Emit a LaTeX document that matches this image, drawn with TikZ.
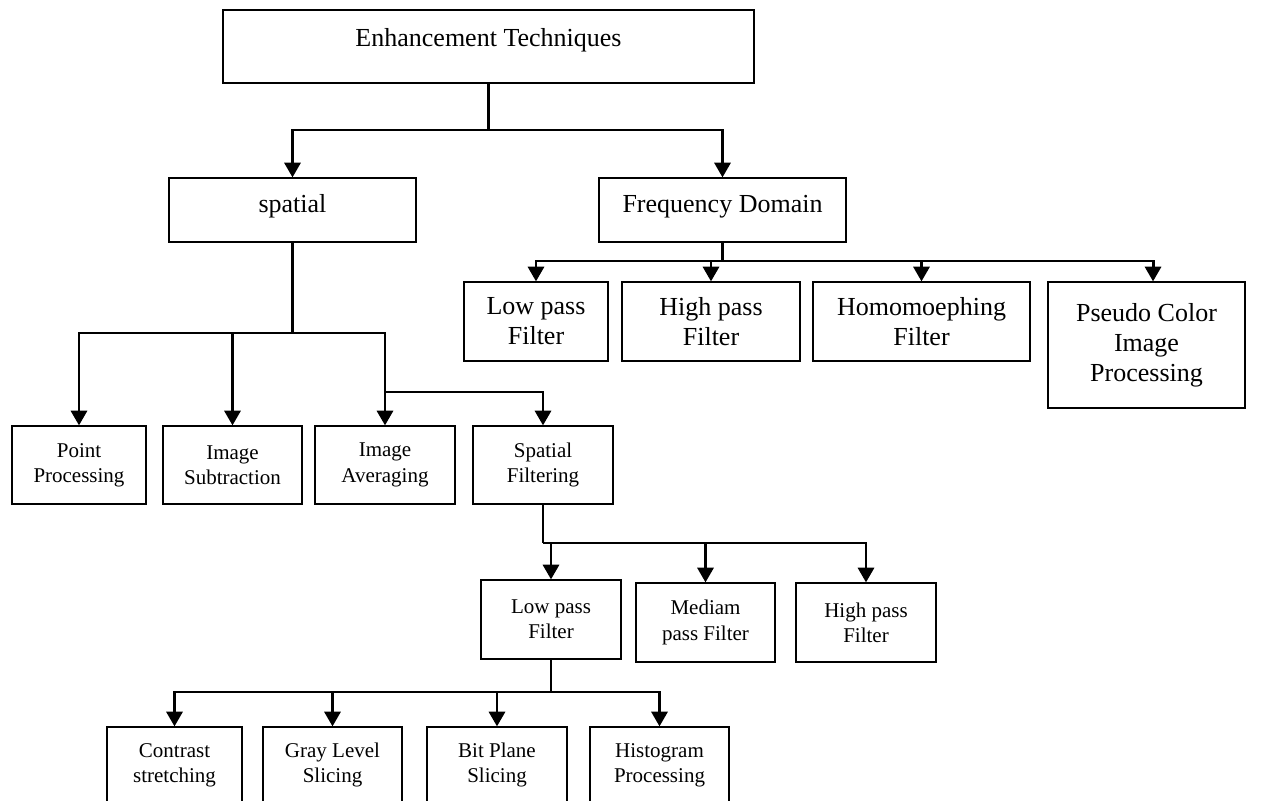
\documentclass[tikz,border=0pt]{standalone}
\usepackage{fontspec}
\setmainfont{Liberation Serif}
\usetikzlibrary{arrows.meta}
\tikzset{
  box/.style={draw, line width=0.9pt, rectangle, inner sep=0pt, align=center},
  big/.style={font=\fontsize{19.5pt}{22.5pt}\selectfont},
  small/.style={font=\fontsize{15.75pt}{19pt}\selectfont},
  oneline/.style={text height=13.5pt, text depth=9.75pt},
  conn/.style={line width=2.2pt},
  arr/.style={conn, -{Triangle[width=12pt,length=11pt]}},
}
\newcommand\mybox[7][]{%
  \node[box,#1, minimum width={(#4-#2)*0.75pt}, minimum height={(#5-#3)*0.75pt}]
    (#6) at ({(#2+#4)/2},{(#3+#5)/2}) {#7};}
\begin{document}
\begin{tikzpicture}[x=0.75pt,y=-0.75pt]
\useasboundingbox (0,0) rectangle (1263,800);
\clip (0,0) rectangle (1263,800);
% level 0
\mybox[big,text height=9pt,text depth=9pt]{223}{10}{754}{83}{enh}{Enhancement Techniques}
% level 1
\mybox[big,oneline]{169}{178}{416}{242}{sp}{spatial}
\mybox[big,oneline]{599}{178}{846}{242}{fd}{Frequency Domain}
% frequency children
\mybox[big]{464}{282}{608}{361}{flp}{Low pass\\Filter}
\mybox[big]{622}{282}{800}{361}{fhp}{High pass\\Filter}
\mybox[big]{813}{282}{1030}{361}{fho}{Homomoephing\\Filter}
\mybox[big]{1048}{282}{1245}{408}{fps}{Pseudo Color\\Image\\Processing}
% spatial children
\mybox[small]{12}{426}{146}{504}{pp}{Point\\Processing}
\mybox[small]{163}{426}{302}{504}{isub}{Image\\Subtraction}
\mybox[small]{315}{426}{455}{504}{iav}{Image\\Averaging}
\mybox[small]{473}{426}{613}{504}{sf}{Spatial\\Filtering}
% spatial filtering children
\mybox[small]{481}{580}{621}{659}{slp}{Low pass\\Filter}
\mybox[small]{636}{583}{775}{662}{smp}{Mediam\\pass Filter}
\mybox[small]{796}{583}{936}{662}{shp}{High pass\\Filter}
% low pass children
\mybox[small]{107}{727}{242}{803}{cs}{Contrast\\stretching}
\mybox[small]{263}{727}{402}{803}{gl}{Gray Level\\Slicing}
\mybox[small]{427}{727}{567}{803}{bp}{Bit Plane\\Slicing}
\mybox[small]{590}{727}{729}{803}{hg}{Histogram\\Processing}
% connectors
\coordinate (j1) at (488.5,130);
\draw[conn] (enh.south) -- (j1);
\draw[arr] (j1) -| (sp);
\draw[arr] (j1) -| (fd);
\coordinate (j2) at (722.5,261);
\draw[conn] (fd.south) -- (j2);
\draw[arr] (j2) -| (flp);
\draw[arr] (j2) -| (fhp);
\draw[arr] (j2) -| (fho);
\draw[arr] (j2) -| ([xshift=4.9pt]fps.north);
\coordinate (j3) at (292.5,333);
\draw[conn] (sp.south) -- (j3);
\draw[arr] (j3) -| (pp);
\draw[arr] (j3) -| (isub);
\draw[arr] (j3) -| (iav);
\coordinate (j4) at (385,392);
\draw[arr] (j4) -| (sf);
\coordinate (j5) at (543,543);
\draw[conn] (sf.south) -- (j5);
\draw[arr] (j5) -| (slp);
\draw[arr] (j5) -| (smp);
\draw[arr] (j5) -| (shp);
\coordinate (j6) at (551,692);
\draw[conn] (slp.south) -- (j6);
\draw[arr] (j6) -| (cs);
\draw[arr] (j6) -| (gl);
\draw[arr] (j6) -| (bp);
\draw[arr] (j6) -| (hg);
\end{tikzpicture}
\end{document}
